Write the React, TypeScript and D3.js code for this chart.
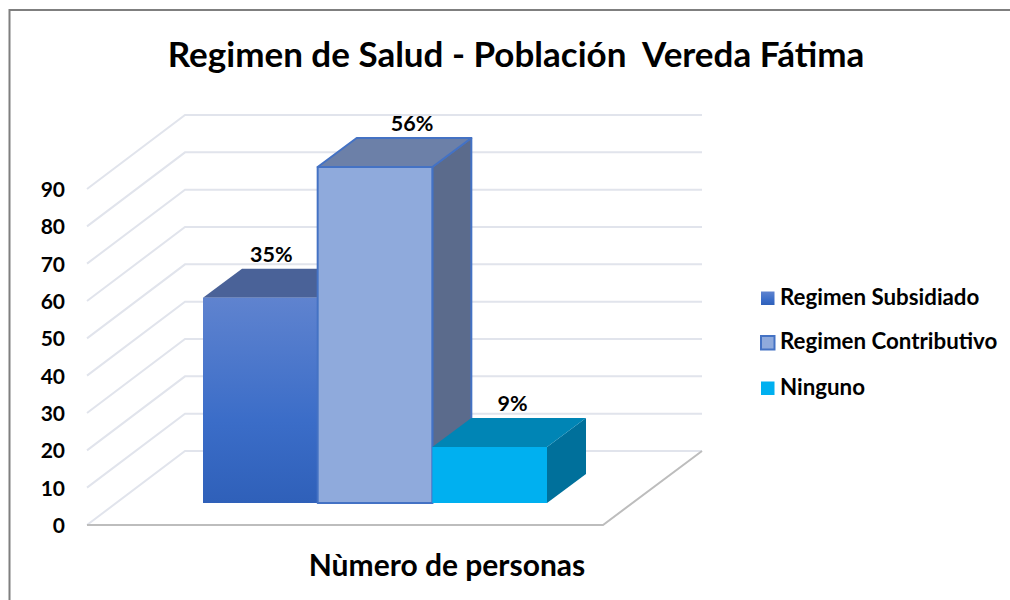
import React from "react";
import * as d3 from "d3";

const title = "Regimen de Salud - Población  Vereda Fátima";
const xTitle = "Nùmero de personas";
const categories = ["Regimen Subsidiado", "Regimen Contributivo", "Ninguno"];
const values = [55, 90, 15];
const percents = ["35%", "56%", "9%"];
const tickValues = [0, 10, 20, 30, 40, 50, 60, 70, 80, 90];

const font = "Lato, 'Open Sans', sans-serif";
const gridColor = "#e1e4ec";
const floorColor = "#bdbdbd";

// front wall of the fake 3d box
const y = d3.scaleLinear().domain([0, 90]).range([525, 189]);
const barHeight = d3.scaleLinear().domain([0, 90]).range([0, 336]);
const x = d3.scaleBand().domain(categories).range([203, 547]);

const barBase = 503;
const depth = { dx: 39, dy: -29 };
const wall = { x0: 87, x1: 185, x2: 702, dy: -74 };
const floorRight = 603;

const faces = [
  { top: "#4a6298", side: "#44598a", stroke: "none" },
  { top: "#6c80a8", side: "#5b6b8c", stroke: "#4472c4" },
  { top: "#0085b5", side: "#00709b", stroke: "none" },
];
const fills = ["url(#blueGrad)", "#8faadc", "#00b0f0"];

const labelShift = [11, 37, 23];
const legendY = [298, 342.5, 388];

const line = d3.line();

export default function App() {
  return (
    <svg
      width={1010}
      height={600}
      style={{ position: "absolute", left: 0, top: 0, background: "#fff" }}
      fontFamily={font}
      fontWeight={700}
      fill="#000"
    >
      <defs>
        <linearGradient id="blueGrad" x1="0" y1="0" x2="0" y2="1">
          <stop offset="0" stopColor="#5f83cf" />
          <stop offset="0.6" stopColor="#3b6dc8" />
          <stop offset="1" stopColor="#2f60b9" />
        </linearGradient>
      </defs>

      {/* outer frame */}
      <path d="M9.5,600V10H1010" fill="none" stroke="#7f7f7f" strokeWidth={2} />

      <text x={516} y={67} textAnchor="middle" fontSize={35} style={{ whiteSpace: "pre" }}>
        {title}
      </text>

      {/* grid lines */}
      {tickValues.map((t) => (
        <path
          key={t}
          d={
            line([
              [wall.x0, y(t)],
              [wall.x1, y(t) + wall.dy],
              [wall.x2, y(t) + wall.dy],
            ]) as string
          }
          fill="none"
          stroke={gridColor}
          strokeWidth={2}
        />
      ))}
      <path
        d={
          line([
            [wall.x0, y(0)],
            [floorRight, y(0)],
            [wall.x2, y(0) + wall.dy],
          ]) as string
        }
        fill="none"
        stroke={floorColor}
        strokeWidth={2}
      />

      {tickValues.map((t) => (
        <text key={t} x={65} y={y(t) + 8} textAnchor="end" fontSize={21}>
          {t}
        </text>
      ))}

      {/* bars */}
      {categories.map((c, i) => {
        const x0 = x(c) as number;
        const x1 = x0 + x.bandwidth();
        const yTop = barBase - barHeight(values[i]);
        const f = faces[i];
        const topFace = line([
          [x0, yTop],
          [x0 + depth.dx, yTop + depth.dy],
          [x1 + depth.dx, yTop + depth.dy],
          [x1, yTop],
        ]) as string;
        const sideFace = line([
          [x1, yTop],
          [x1 + depth.dx, yTop + depth.dy],
          [x1 + depth.dx, barBase + depth.dy],
          [x1, barBase],
        ]) as string;
        return (
          <g key={c} stroke={f.stroke} strokeWidth={f.stroke === "none" ? 0 : 2} strokeLinejoin="round">
            <path d={sideFace + "Z"} fill={f.side} />
            <path d={topFace + "Z"} fill={f.top} />
            <rect x={x0} y={yTop} width={x.bandwidth()} height={barHeight(values[i])} fill={fills[i]} />
          </g>
        );
      })}

      {categories.map((c, i) => (
        <text
          key={c}
          x={(x(c) as number) + x.bandwidth() / 2 + labelShift[i]}
          y={barBase - barHeight(values[i]) + depth.dy - 7}
          textAnchor="middle"
          fontSize={21.5}
        >
          {percents[i]}
        </text>
      ))}

      {/* legend */}
      {categories.map((c, i) => (
        <g key={c}>
          <rect
            x={761}
            y={legendY[i] - 6.5}
            width={13.5}
            height={13.5}
            fill={fills[i]}
            stroke={faces[i].stroke}
            strokeWidth={faces[i].stroke === "none" ? 0 : 2}
          />
          <text x={780} y={legendY[i] + 6.5} fontSize={22.3}>
            {c}
          </text>
        </g>
      ))}

      <text x={447} y={576} textAnchor="middle" fontSize={30}>
        {xTitle}
      </text>
    </svg>
  );
}
